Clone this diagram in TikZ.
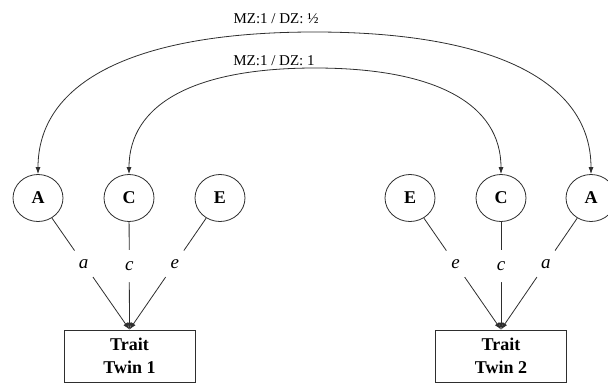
\documentclass[tikz,border=0pt]{standalone}
\usepackage{fontspec}
\setmainfont{Liberation Serif}
\usetikzlibrary{shapes.geometric,arrows.meta}
\definecolor{linecol}{HTML}{2E2E2E}
\begin{document}
\begin{tikzpicture}[x=1pt,y=-1pt,
  latent/.style={ellipse,draw=linecol,line width=0.8pt,minimum width=50pt,minimum height=47pt,inner sep=0pt,font=\fontsize{18}{20}\selectfont\bfseries},
  trait/.style={rectangle,draw=linecol,line width=0.8pt,minimum width=131pt,minimum height=52pt,align=center,inner sep=0pt,font=\fontsize{18}{23}\selectfont\bfseries},
  load/.style={draw=linecol,line width=0.8pt,-{Latex[length=7pt,width=5pt]}},
  pl/.style={circle,fill=white,minimum size=32pt,inner sep=0pt,font=\fontsize{19}{20}\selectfont\itshape},
  cov/.style={draw=linecol,line width=0.8pt,{Latex[length=7pt,width=5pt]}-{Latex[length=7pt,width=5pt]}},
  covlab/.style={inner sep=0pt,font=\fontsize{15}{16}\selectfont}]
\useasboundingbox (0,0) rectangle (608,383);
\node[latent] (A1) at (38,198) {A};
\node[latent] (C1) at (129,198) {C};
\node[latent] (E1) at (220,198) {E};
\node[latent] (E2) at (410,198) {E};
\node[latent] (C2) at (501,198) {C};
\node[latent] (A2) at (591,198) {A};
\node[trait] (T1) at (129.5,356) {Trait\\Twin 1};
\node[trait] (T2) at (501,356) {Trait\\Twin 2};
\draw[load] (A1) -- node[pl,pos=0.41] {a} (T1.north);
\draw[load] (C1) -- node[pl,pos=0.41] {c} (T1.north);
\draw[load] (E1) -- node[pl,pos=0.41] {e} (T1.north);
\draw[load] (E2) -- node[pl,pos=0.41] {e} (T2.north);
\draw[load] (C2) -- node[pl,pos=0.41] {c} (T2.north);
\draw[load] (A2) -- node[pl,pos=0.41] {a} (T2.north);
\coordinate (P1) at (314.5,32);
\coordinate (P2) at (315,68);
\draw[cov] (A1.north) .. controls +(0,-93) and +(-179,0) .. (P1) .. controls +(179,0) and +(0,-93) .. (A2.north);
\draw[cov] (C1.north) .. controls +(0,-70) and +(-121,0) .. (P2) .. controls +(121,0) and +(0,-70) .. (C2.north);
\node[covlab] (L1) at (276,19) {MZ:1 / DZ: ½};
\node[covlab] (L2) at (274,61) {MZ:1 / DZ: 1};
\end{tikzpicture}
\end{document}
